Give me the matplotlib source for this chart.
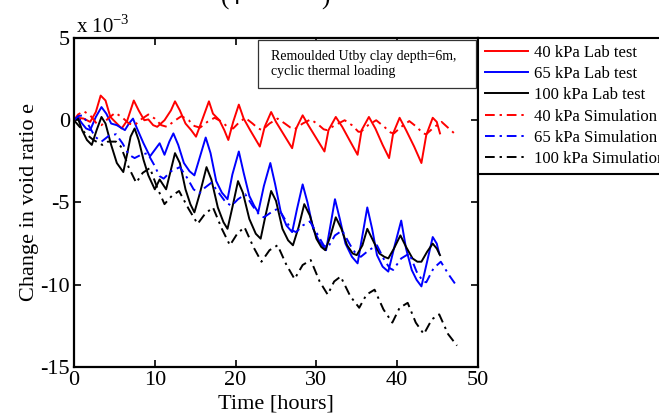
import matplotlib
matplotlib.use('Agg')
import matplotlib.pyplot as plt
from matplotlib.patches import Rectangle

plt.rcParams['font.family'] = 'Liberation Serif'
plt.rcParams['mathtext.fontset'] = 'custom'
plt.rcParams['mathtext.rm'] = 'Liberation Serif'
plt.rcParams['axes.unicode_minus'] = False

# Lab test curves (time in hours, change in void ratio in 1e-3)
lab40_t = [0, 0.5, 1.2, 2.0, 2.7, 3.3, 3.9, 4.5, 5.3, 5.9, 6.6, 7.4, 8.0, 8.7, 9.2, 9.8, 10.3, 11.2, 12.0, 12.5,
           13.1, 13.8, 14.5, 15.1, 15.7, 16.7, 17.2, 18.0, 18.6, 19.1, 19.7, 20.4, 21.0, 21.8, 23.0, 23.6, 24.4,
           25.0, 26.0, 27.0, 27.5, 28.3, 29.0, 30.0, 31.0, 31.5, 32.4, 33.2, 34.2, 35.1, 35.6, 36.5, 37.3, 38.2,
           39.0, 39.5, 40.3, 41.1, 42.1, 43.0, 43.6, 44.4, 44.9, 45.3]
lab40_e = [0, 0.15, 0.1, -0.1, 0.5, 1.5, 1.2, 0.2, -0.2, -0.5, 0.0, 1.2, 0.6, 0.0, 0.05, -0.3, -0.4, 0.0, 0.6, 1.15,
           0.6, -0.2, -0.6, -1.0, -0.2, 1.15, 0.4, 0.0, -0.6, -1.2, -0.1, 0.95, 0.1, -0.6, -1.6, -0.4, 0.5,
           -0.1, -0.9, -1.7, -0.5, 0.3, -0.3, -1.1, -1.9, -0.6, 0.2, -0.4, -1.3, -2.1, -0.6, 0.2, -0.5, -1.5,
           -2.3, -0.8, 0.15, -0.6, -1.6, -2.6, -0.9, 0.15, -0.1, -0.8]

lab65_t = [0, 0.5, 1.0, 1.5, 2.0, 2.7, 3.4, 4.0, 4.6, 5.3, 6.3, 6.8, 7.3, 7.8, 8.6, 9.4, 10.0, 10.6, 11.2, 11.8,
           12.3, 12.9, 13.6, 14.3, 14.9, 15.6, 16.3, 16.9, 17.6, 18.3, 19.0, 19.6, 20.4, 21.0, 21.7, 22.3, 22.8,
           23.5, 24.3, 24.9, 25.6, 26.3, 27.0, 27.6, 28.3, 28.9, 29.6, 30.4, 31.2, 31.7, 32.3, 32.9, 33.6, 34.4,
           35.1, 35.7, 36.3, 36.9, 37.5, 38.2, 38.9, 39.7, 40.5, 41.1, 41.8, 42.4, 43.0, 43.7, 44.4, 44.9, 45.2]
lab65_e = [0, 0.15, -0.2, -0.5, -0.6, 0.2, 0.8, 0.4, -0.2, -0.3, -0.6, -0.2, 0.1, -0.5, -1.4, -2.2, -1.8, -1.4, -2.1, -1.3,
           -0.8, -1.5, -2.6, -3.1, -3.35, -2.2, -1.05, -2.0, -3.7, -4.4, -4.8, -3.3, -1.9, -3.2, -4.6, -5.2, -5.6,
           -4.0, -2.6, -3.9, -5.6, -6.4, -6.8, -5.4, -3.9, -5.0, -6.6, -7.4, -7.9, -6.5, -4.8, -6.0, -7.5, -8.3,
           -8.7, -7.0, -5.3, -6.6, -8.2, -8.9, -9.2, -7.6, -6.1, -7.8, -9.1, -9.7, -10.1, -8.6, -7.1, -7.5, -8.1]

lab100_t = [0, 0.5, 1.0, 1.6, 2.2, 2.8, 3.4, 3.9, 4.6, 5.3, 6.1, 6.6, 7.0, 7.5, 8.0, 8.6, 9.2, 10.0, 10.6, 11.4,
            12.0, 12.5, 13.1, 13.8, 14.4, 14.9, 15.6, 16.4, 17.0, 17.8, 18.5, 19.0, 19.6, 20.3, 20.9, 21.7, 22.5,
            23.1, 23.7, 24.4, 25.0, 25.8, 26.5, 27.1, 27.8, 28.5, 29.2, 30.0, 30.6, 31.1, 31.7, 32.4, 33.1, 33.8,
            34.5, 35.0, 35.7, 36.3, 37.0, 37.8, 38.4, 38.9, 39.6, 40.4, 41.1, 41.9, 42.5, 43.0, 43.7, 44.4, 44.9, 45.3]
lab100_e = [0, 0.1, -0.6, -1.2, -1.5, -0.6, 0.2, -0.2, -1.5, -2.6, -3.15, -2.0, -1.0, -0.5, -1.2, -2.4, -3.35, -4.2, -3.6, -4.2,
            -3.0, -2.0, -2.6, -4.2, -5.1, -5.6, -4.4, -2.85, -3.6, -5.3, -6.2, -6.6, -5.3, -3.7, -4.4, -6.0, -6.9,
            -7.2, -5.8, -4.3, -4.9, -6.6, -7.3, -7.6, -6.5, -5.1, -5.8, -7.2, -7.7, -7.9, -7.1, -5.9, -6.6, -7.6,
            -8.1, -8.2, -7.6, -6.6, -7.3, -8.1, -8.3, -8.4, -7.8, -7.0, -7.7, -8.4, -8.6, -8.6, -8.0, -7.5, -7.8, -8.2]

# Simulation curves
sim40_t = [0, 0.5, 1.2, 2.0, 2.8, 3.4, 4.2, 5.1, 5.9, 6.8, 7.5, 8.3, 9.2, 10.0, 10.8, 11.5, 12.4, 13.3, 14.2, 14.9,
           15.6, 16.5, 17.4, 18.3, 19.0, 19.7, 20.4, 21.2, 22.1, 22.8, 23.3, 24.2, 25.2, 26.1, 26.8, 27.3, 28.3,
           29.3, 30.2, 30.9, 31.3, 32.3, 33.5, 34.4, 35.2, 35.5, 36.4, 37.4, 38.4, 39.2, 39.6, 40.5, 41.5, 42.4,
           43.2, 43.6, 44.5, 45.5, 46.4, 47.3]
sim40_e = [0, 0.35, 0.55, 0.3, -0.2, -0.3, 0.1, 0.45, 0.2, -0.2, -0.3, 0.05, 0.35, 0.1, -0.3, -0.4, -0.05, 0.25, 0.0, -0.35,
           -0.45, -0.1, 0.15, -0.1, -0.4, -0.5, -0.15, 0.15, -0.2, -0.5, -0.6, -0.2, 0.1, -0.2, -0.45, -0.55, -0.2,
           0.05, -0.25, -0.55, -0.6, -0.3, 0.0, -0.3, -0.7, -0.7, -0.3, 0.0, -0.4, -0.75, -0.8, -0.4, -0.05, -0.4,
           -0.8, -0.85, -0.45, -0.1, -0.5, -0.9]

sim65_t = [0, 0.5, 1.1, 1.8, 2.6, 3.4, 4.3, 5.2, 6.0, 6.8, 7.5, 8.3, 9.1, 9.9, 10.6, 11.1, 12.0, 13.1, 14.0, 14.8,
           15.5, 16.2, 17.0, 17.9, 18.8, 19.5, 20.3, 21.2, 22.1, 23.0, 23.5, 24.4, 25.3, 26.2, 27.0, 27.5, 28.3,
           29.2, 30.1, 30.9, 31.4, 32.3, 33.2, 34.2, 35.0, 35.5, 36.5, 37.5, 38.4, 39.1, 39.5, 40.5, 41.5, 42.4,
           43.2, 43.6, 44.5, 45.4, 46.4, 47.4]
sim65_e = [0, 0.25, 0.3, -0.3, -1.0, -1.3, -0.95, -0.85, -1.4, -2.1, -2.3, -2.1, -2.0, -2.7, -3.4, -3.55, -3.1, -2.85, -3.5, -4.2,
           -4.45, -4.1, -3.8, -4.4, -5.0, -5.2, -4.8, -4.5, -5.2, -5.8, -5.9, -5.6, -5.35, -6.1, -6.7, -6.8, -6.4,
           -6.15, -6.9, -7.6, -7.75, -7.0, -6.7, -7.6, -8.2, -8.3, -7.9, -7.6, -8.5, -9.0, -9.1, -8.4, -8.1, -9.2,
           -9.8, -9.85, -9.0, -8.6, -9.4, -10.1]

sim100_t = [0, 0.7, 1.4, 2.4, 3.5, 4.2, 5.2, 5.8, 6.8, 7.7, 8.5, 9.4, 10.3, 11.2, 12.1, 13.0, 14.2, 15.3, 16.2, 17.2,
            18.3, 19.3, 20.2, 21.1, 22.2, 23.2, 24.2, 25.2, 26.3, 27.3, 28.3, 29.3, 30.4, 31.4, 32.2, 33.0, 34.2,
            35.3, 36.2, 37.2, 38.3, 39.4, 40.3, 41.3, 42.3, 43.3, 44.3, 45.2, 46.3, 47.4]
sim100_e = [0, -0.4, -0.8, -1.2, -1.5, -1.3, -1.3, -1.6, -2.9, -3.8, -3.2, -2.9, -4.1, -5.1, -4.6, -4.3, -5.4, -6.3, -5.7, -5.3,
            -6.6, -7.6, -6.9, -6.5, -7.7, -8.6, -7.9, -7.6, -8.8, -9.65, -8.8, -8.5, -9.8, -10.6, -9.8, -9.5, -10.7,
            -11.4, -10.6, -10.3, -11.5, -12.3, -11.4, -11.1, -12.3, -13.0, -12.1, -11.8, -13.0, -13.7]

labels = ['40 kPa Lab test', '65 kPa Lab test', '100 kPa Lab test',
          '40 kPa Simulation', '65 kPa Simulation', '100 kPa Simulation']

fig = plt.figure(figsize=(6.59, 4.17), dpi=100)
ax = fig.add_axes([0.1123, 0.1199, 0.613, 0.789])

dashdot = (0, (5, 2.5, 1.2, 2.5))
ax.plot(lab40_t, lab40_e, color='r', lw=1.4, label=labels[0])
ax.plot(lab65_t, lab65_e, color='b', lw=1.4, label=labels[1])
ax.plot(lab100_t, lab100_e, color='k', lw=1.4, label=labels[2])
ax.plot(sim40_t, sim40_e, color='r', lw=1.4, ls=dashdot, label=labels[3])
ax.plot(sim65_t, sim65_e, color='b', lw=1.4, ls=dashdot, label=labels[4])
ax.plot(sim100_t, sim100_e, color='k', lw=1.4, ls=dashdot, label=labels[5])

ax.set_xlim(0, 50)
ax.set_ylim(-15, 5)
ax.set_xticks([0, 10, 20, 30, 40, 50])
ax.set_yticks([-15, -10, -5, 0, 5])
ax.tick_params(direction='in', top=True, right=True, length=5, width=1.2, labelsize=16, pad=3)
for s in ax.spines.values():
    s.set_linewidth(1.6)

ax.set_xlabel('Time [hours]', fontsize=16, labelpad=3)
ax.set_ylabel('Change in void ratio e', fontsize=16, labelpad=1)

# exponent label like matlab
fig.text(76 / 659, 1 - 33 / 417, r'x 10$^{\mathrm{-3}}$', fontsize=15)

# cut off title at the top
fig.text(221 / 659, 1 - 5 / 417, '(4', fontsize=18)
fig.text(321 / 659, 1 - 5 / 417, ')', fontsize=18)

# annotation box
ax.add_patch(Rectangle((0.455, 0.848), 0.54, 0.146, transform=ax.transAxes,
                       facecolor='white', edgecolor='#333333', lw=0.9, zorder=5))
ax.text(0.488, 0.962, 'Remoulded Utby clay depth=6m,\ncyclic thermal loading',
        transform=ax.transAxes, va='top', ha='left', fontsize=10, linespacing=1.2, zorder=6)

leg = ax.legend(loc='upper left', bbox_to_anchor=(1.0, 1.0), borderaxespad=0, fancybox=False,
                edgecolor='k', framealpha=1, fontsize=12, handlelength=2.6, labelspacing=0.32,
                handletextpad=0.35, borderpad=0.4)
leg.get_frame().set_linewidth(1.5)

plt.savefig('out.png', dpi=100)
plt.close()
